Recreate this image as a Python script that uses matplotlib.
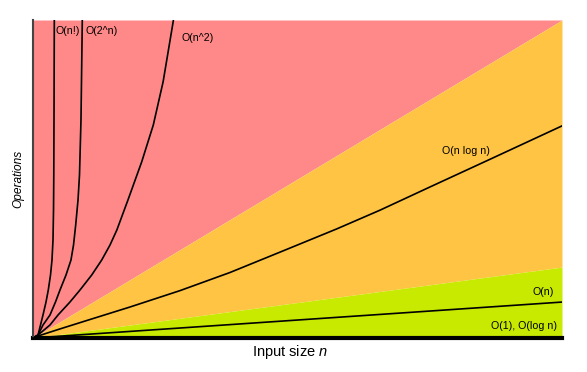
import matplotlib
matplotlib.use('Agg')
import matplotlib.pyplot as plt

# boundaries of the coloured bands (x, y in 0..100 units)
band_x = [0, 100]
red_edge = [0, 100]
green_edge = [0, 22.3]

# curves
fact_x = [0, 0.95, 1.42, 1.89, 2.46, 2.89, 3.31, 3.59, 3.78, 3.88, 3.93, 3.97, 4.03]
fact_y = [0, 0.94, 4.09, 7.23, 11.32, 15.09, 19.81, 24.53, 30.8, 40.3, 51.3, 68.6, 100]
exp_x = [0, 0.95, 1.89, 3.21, 4.25, 5.10, 6.24, 7.18, 7.66, 8.07, 8.51, 8.79, 9.07, 9.32]
exp_y = [0, 0.94, 4.09, 7.23, 11.32, 15.09, 19.81, 24.53, 29.25, 35.53, 43.40, 51.26, 68.55, 100]
sq_x = [0, 0.95, 3.21, 4.73, 6.99, 8.88, 11.10, 12.99, 14.56, 15.85, 17.95, 20.55,
        22.74, 24.6, 26.55]
sq_y = [0, 0.94, 4.09, 7.23, 11.32, 15.09, 19.81, 24.53, 29.25, 33.96, 43.4, 55.4,
        66.98, 80.6, 100]
nlogn_x = [0, 0.95, 5.0, 10.78, 18.34, 27.79, 37.24, 46.69, 57.41, 65.6, 75.05, 86.39, 100]
nlogn_y = [0, 0.63, 2.8, 5.82, 9.75, 14.9, 20.6, 27.0, 34.3, 40.2, 47.5, 56.2, 66.7]
lin_x = [0, 100]
lin_y = [0, 11.3]
const_x = [0, 100]
const_y = [0, 0]

labels = ['O(n!)', 'O(2^n)', 'O(n^2)', 'O(n log n)', 'O(n)', 'O(1), O(log n)']

plt.rcParams['font.family'] = ['Liberation Sans', 'DejaVu Sans']
plt.rcParams['mathtext.fontset'] = 'custom'
plt.rcParams['mathtext.rm'] = 'Liberation Sans'
plt.rcParams['mathtext.it'] = 'Liberation Sans:italic'

fig = plt.figure(figsize=(5.87, 3.72), dpi=100)
ax = fig.add_axes([33 / 587, 34 / 372, 529 / 587, 318 / 372])

red = '#ff8888'
orange = '#ffc443'
green = '#c8ea00'

ax.fill_between(band_x, red_edge, [100, 100], color=red, lw=0)
ax.fill_between(band_x, green_edge, red_edge, color=orange, lw=0)
ax.fill_between(band_x, [0, 0], green_edge, color=green, lw=0)

lw = 1.2
ax.plot(fact_x, fact_y, color='black', lw=lw)
ax.plot(exp_x, exp_y, color='black', lw=lw)
ax.plot(sq_x, sq_y, color='black', lw=lw)
ax.plot(nlogn_x, nlogn_y, color='black', lw=lw)
ax.plot(lin_x, lin_y, color='black', lw=lw)
ax.plot(const_x, const_y, color='black', lw=3.0, clip_on=False)

fs = 7.7
ax.text(4.2, 96.5, labels[0], fontsize=fs, ha='left', va='center')
ax.text(9.9, 96.5, labels[1], fontsize=fs, ha='left', va='center')
ax.text(28.1, 94.4, labels[2], fontsize=fs, ha='left', va='center')
ax.text(81.9, 58.9, labels[3], fontsize=fs, ha='center', va='center')
ax.text(98.5, 14.5, labels[4], fontsize=fs, ha='right', va='center')
ax.text(99.1, 3.8, labels[5], fontsize=fs, ha='right', va='center')

ax.set_xlim(0, 100)
ax.set_ylim(0, 100)
ax.set_xticks([])
ax.set_yticks([])
ax.spines['top'].set_visible(False)
ax.spines['right'].set_visible(False)
ax.spines['left'].set_color('#444444')
ax.spines['left'].set_linewidth(1.5)
ax.spines['bottom'].set_color('black')
ax.spines['bottom'].set_linewidth(2.0)

fig.text(290 / 587, (372 - 352) / 372, 'Input size $n$', fontsize=10.5,
         ha='center', va='center')
fig.text(18 / 587, (372 - 179) / 372, 'Operations', fontsize=8.6,
         style='italic', rotation=90, ha='center', va='center')

fig.savefig('out.png', dpi=100)
